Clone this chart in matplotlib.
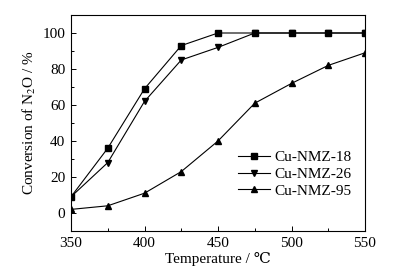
import matplotlib
matplotlib.use("Agg")
import matplotlib.pyplot as plt
from matplotlib.ticker import MultipleLocator

temps = [350, 375, 400, 425, 450, 475, 500, 525, 550]
nmz18 = [9, 36, 69, 93, 100, 100, 100, 100, 100]
nmz26 = [9, 28, 62, 85, 92, 100, 100, 100, 100]
nmz95 = [2, 4, 11, 23, 40, 61, 72, 82, 89]

plt.rcParams["font.family"] = ["Liberation Serif", "DejaVu Serif"]
plt.rcParams["mathtext.fontset"] = "stix"

fig = plt.figure(figsize=(4.1, 2.71), dpi=100)
ax = fig.add_axes([71 / 410, 40 / 271, 294 / 410, 216 / 271])

lw = 0.8
ax.plot(temps, nmz18, "k-", marker="s", ms=3.8, lw=lw, label="Cu-NMZ-18")
ax.plot(temps, nmz26, "k-", marker="v", ms=4.3, lw=lw, label="Cu-NMZ-26")
ax.plot(temps, nmz95, "k-", marker="^", ms=4.3, lw=lw, label="Cu-NMZ-95")

ax.set_xlim(350, 550)
ax.set_ylim(-10, 110)
ax.xaxis.set_major_locator(MultipleLocator(50))
ax.xaxis.set_minor_locator(MultipleLocator(25))
ax.yaxis.set_major_locator(MultipleLocator(20))
ax.yaxis.set_minor_locator(MultipleLocator(10))
ax.set_yticks(range(0, 101, 20))
ax.tick_params(which="both", direction="in", labelsize=11, width=0.7)
ax.tick_params(which="major", length=3.5, pad=4)
ax.tick_params(which="minor", length=2)
for s in ax.spines.values():
    s.set_linewidth(0.8)

ax.set_xlabel("Temperature / \u2103", fontsize=11, labelpad=2)
ax.set_ylabel("Conversion of N$_2$O / %", fontsize=11, labelpad=3)

ax.legend(loc="lower right", bbox_to_anchor=(1.0, 0.09), frameon=False,
          fontsize=11, handlelength=2.1, handletextpad=0.25, labelspacing=0.2)

fig.savefig("out.png", dpi=100)
